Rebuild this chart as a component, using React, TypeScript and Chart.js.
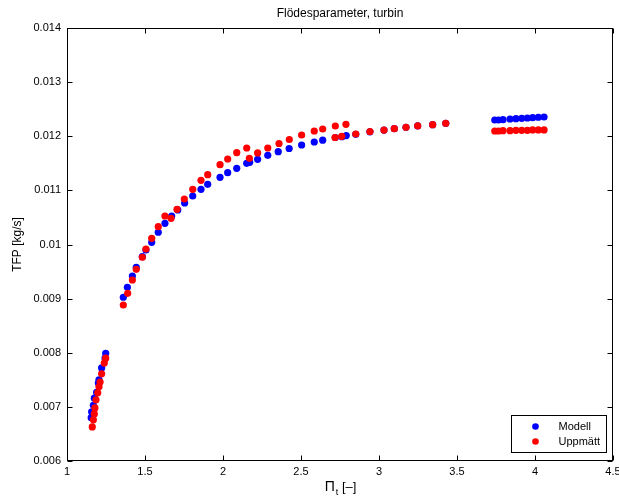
import React, { useEffect, useRef } from "react";
import { Chart, registerables } from "chart.js";

Chart.register(...registerables);

const chartTitle = "Flödesparameter, turbin";
const yAxisTitle = "TFP [kg/s]";
const xAxisMain = "Π";
const xAxisSub = "t";
const xAxisUnit = " [–]";
const seriesNames = ["Modell", "Uppmätt"];
const seriesColors = ["#0000ff", "#ff0000"];

const xTicks = [1, 1.5, 2, 2.5, 3, 3.5, 4, 4.5];
const yTicks = [0.006, 0.007, 0.008, 0.009, 0.01, 0.011, 0.012, 0.013, 0.014];

const modellX = [
  1.155, 1.158, 1.169, 1.175, 1.19, 1.201, 1.205, 1.222, 1.244, 1.248,
  1.361, 1.387, 1.419, 1.444, 1.483, 1.506, 1.543, 1.585, 1.628, 1.671,
  1.71, 1.754, 1.806, 1.859, 1.902, 1.981, 2.03, 2.088, 2.152, 2.171,
  2.222, 2.287, 2.354, 2.424, 2.504, 2.585, 2.639, 2.72, 2.763, 2.79,
  2.851, 2.942, 3.032, 3.098, 3.173, 3.248, 3.344, 3.428,
  3.742, 3.766, 3.795, 3.84, 3.878, 3.915, 3.951, 3.985, 4.021, 4.058,
];
const modellY = [
  0.0068, 0.00691, 0.00703, 0.00716, 0.00727, 0.00744, 0.0075, 0.00772, 0.0079, 0.00799,
  0.009025, 0.009209, 0.009418, 0.009579, 0.009775, 0.009898, 0.010041, 0.010226, 0.010392, 0.010527,
  0.010638, 0.010767, 0.010896, 0.01102, 0.011112, 0.011242, 0.011327, 0.011408, 0.0115, 0.011519,
  0.011574, 0.011648, 0.011715, 0.011774, 0.011838, 0.011894, 0.011927, 0.011977, 0.011992, 0.012012,
  0.012036, 0.012082, 0.012115, 0.01214, 0.012166, 0.01219, 0.012214, 0.01224,
  0.0123, 0.0123, 0.012306, 0.012319, 0.012325, 0.012332, 0.012337, 0.012343, 0.012351, 0.012356,
];

const uppmattX = [
  1.162, 1.169, 1.175, 1.179, 1.186, 1.197, 1.205, 1.212, 1.222, 1.239, 1.248,
  1.361, 1.389, 1.419, 1.444, 1.483, 1.506, 1.543, 1.585, 1.628, 1.667,
  1.705, 1.752, 1.806, 1.859, 1.902, 1.981, 2.03, 2.088, 2.152, 2.169,
  2.222, 2.287, 2.359, 2.425, 2.504, 2.585, 2.639, 2.72, 2.788, 2.718,
  2.761, 2.851, 2.942, 3.032, 3.098, 3.173, 3.248, 3.344, 3.428,
  3.742, 3.766, 3.795, 3.84, 3.878, 3.915, 3.951, 3.985, 4.021, 4.058,
];
const uppmattY = [
  0.00663, 0.00676, 0.00687, 0.00698, 0.00713, 0.00726, 0.00737, 0.00746, 0.00761, 0.00781, 0.0079,
  0.008882, 0.009098, 0.009344, 0.009542, 0.009764, 0.009917, 0.010115, 0.010329, 0.010527, 0.010484,
  0.01065, 0.010841, 0.01102, 0.011186, 0.01129, 0.011474, 0.01158, 0.011696, 0.011783, 0.011593,
  0.011691, 0.011783, 0.011866, 0.01194, 0.012023, 0.012097, 0.012134, 0.012189, 0.012221, 0.011977,
  0.011999, 0.012042, 0.012088, 0.012115, 0.01214, 0.012166, 0.01219, 0.012214, 0.01224,
  0.012097, 0.012097, 0.012103, 0.012103, 0.01211, 0.01211, 0.01211, 0.012116, 0.012116, 0.012116,
];

const FONT = "'Liberation Sans', Arial, Helvetica, sans-serif";

const framePlugin = {
  id: "matlabFrame",
  afterDraw(chart: any) {
    const ctx = chart.ctx as CanvasRenderingContext2D;
    const { left, right, top, bottom } = chart.chartArea;
    const xs = chart.scales.x;
    const ys = chart.scales.y;
    ctx.save();
    ctx.strokeStyle = "#000";
    ctx.lineWidth = 1;
    const L = Math.round(left) + 0.5;
    const R = Math.round(right) - 0.5;
    const T = Math.round(top) + 0.5;
    const B = Math.round(bottom) - 0.5;
    ctx.strokeRect(L, T, R - L, B - T);
    ctx.beginPath();
    for (const v of xTicks) {
      const p = Math.round(xs.getPixelForValue(v)) + 0.5;
      ctx.moveTo(p, B);
      ctx.lineTo(p, B - 5);
      ctx.moveTo(p, T);
      ctx.lineTo(p, T + 5);
    }
    for (const v of yTicks) {
      const p = Math.round(ys.getPixelForValue(v)) + 0.5;
      ctx.moveTo(L, p);
      ctx.lineTo(L + 5, p);
      ctx.moveTo(R, p);
      ctx.lineTo(R - 5, p);
    }
    ctx.stroke();

    // title
    const cx = (left + right) / 2;
    ctx.fillStyle = "#000";
    ctx.font = `12px ${FONT}`;
    ctx.textAlign = "center";
    ctx.textBaseline = "alphabetic";
    ctx.fillText(chartTitle, cx, 17);

    // x axis title with subscript
    ctx.font = `14px ${FONT}`;
    const wMain = ctx.measureText(xAxisMain).width;
    ctx.font = `9px ${FONT}`;
    const wSub = ctx.measureText(xAxisSub).width;
    ctx.font = `13px ${FONT}`;
    const wUnit = ctx.measureText(xAxisUnit).width;
    const x0 = cx - (wMain + wSub + wUnit) / 2;
    ctx.textAlign = "left";
    ctx.font = `14px ${FONT}`;
    ctx.fillText(xAxisMain, x0, 491);
    ctx.font = `9px ${FONT}`;
    ctx.fillText(xAxisSub, x0 + wMain + 1, 495);
    ctx.font = `13px ${FONT}`;
    ctx.fillText(xAxisUnit, x0 + wMain + wSub + 1, 491);

    // y axis title
    ctx.save();
    ctx.translate(21, (top + bottom) / 2);
    ctx.rotate(-Math.PI / 2);
    ctx.textAlign = "center";
    ctx.font = `12px ${FONT}`;
    ctx.fillText(yAxisTitle, 0, 0);
    ctx.restore();

    // legend
    const lw = 95;
    const lh = 37;
    const lx = Math.round(right) - 102 + 0.5;
    const ly = Math.round(bottom) - 46 + 0.5;
    ctx.fillStyle = "#fff";
    ctx.fillRect(lx, ly, lw, lh);
    ctx.strokeStyle = "#000";
    ctx.strokeRect(lx, ly, lw, lh);
    ctx.font = `11px ${FONT}`;
    ctx.textBaseline = "middle";
    ctx.textAlign = "left";
    seriesNames.forEach((name, i) => {
      const yy = ly + 11 + i * 15;
      ctx.fillStyle = seriesColors[i];
      ctx.beginPath();
      ctx.arc(lx + 24, yy, 3.3, 0, Math.PI * 2);
      ctx.fill();
      ctx.fillStyle = "#000";
      ctx.fillText(name, lx + 47, yy);
    });
    ctx.restore();
  },
};

export default function App() {
  const canvasRef = useRef<HTMLCanvasElement | null>(null);

  useEffect(() => {
    if (!canvasRef.current) return;
    const chart = new Chart(canvasRef.current, {
      type: "scatter",
      data: {
        datasets: [
          {
            label: seriesNames[0],
            data: modellX.map((x, i) => ({ x, y: modellY[i] })),
            backgroundColor: seriesColors[0],
            borderColor: seriesColors[0],
            pointRadius: 3.6,
            pointBorderWidth: 0,
            order: 2,
          },
          {
            label: seriesNames[1],
            data: uppmattX.map((x, i) => ({ x, y: uppmattY[i] })),
            backgroundColor: seriesColors[1],
            borderColor: seriesColors[1],
            pointRadius: 3.6,
            pointBorderWidth: 0,
            order: 1,
          },
        ],
      },
      options: {
        responsive: false,
        animation: false,
        devicePixelRatio: 1,
        layout: { padding: { top: 28, right: 6, left: 0, bottom: 0 } },
        plugins: {
          legend: { display: false },
          title: { display: false },
          tooltip: { enabled: false },
        },
        scales: {
          x: {
            type: "linear",
            min: 1,
            max: 4.5,
            grid: { display: false, drawTicks: false },
            border: { display: false },
            afterBuildTicks: (s: any) => {
              s.ticks = xTicks.map((v) => ({ value: v }));
            },
            afterFit: (s: any) => {
              s.height = 36;
              s.paddingLeft = 0;
              s.paddingRight = 0;
            },
            ticks: {
              autoSkip: false,
              maxRotation: 0,
              padding: 4,
              color: "#000",
              font: { family: FONT, size: 11 },
              callback: (v: any) => String(v),
            },
          },
          y: {
            type: "linear",
            min: 0.006,
            max: 0.014,
            grid: { display: false, drawTicks: false },
            border: { display: false },
            afterBuildTicks: (s: any) => {
              s.ticks = yTicks.map((v) => ({ value: v }));
            },
            afterFit: (s: any) => {
              s.width = 67;
              s.paddingTop = 0;
              s.paddingBottom = 0;
            },
            ticks: {
              autoSkip: false,
              padding: 6,
              color: "#000",
              font: { family: FONT, size: 11 },
              callback: (v: any) => String(Number(Number(v).toFixed(3))),
            },
          },
        },
      },
      plugins: [framePlugin],
    });
    return () => chart.destroy();
  }, []);

  return (
    <div style={{ position: "fixed", left: 0, top: 0, width: 619, height: 497, background: "#fff" }}>
      <canvas ref={canvasRef} width={619} height={497} style={{ width: 619, height: 497, display: "block" }} />
    </div>
  );
}
